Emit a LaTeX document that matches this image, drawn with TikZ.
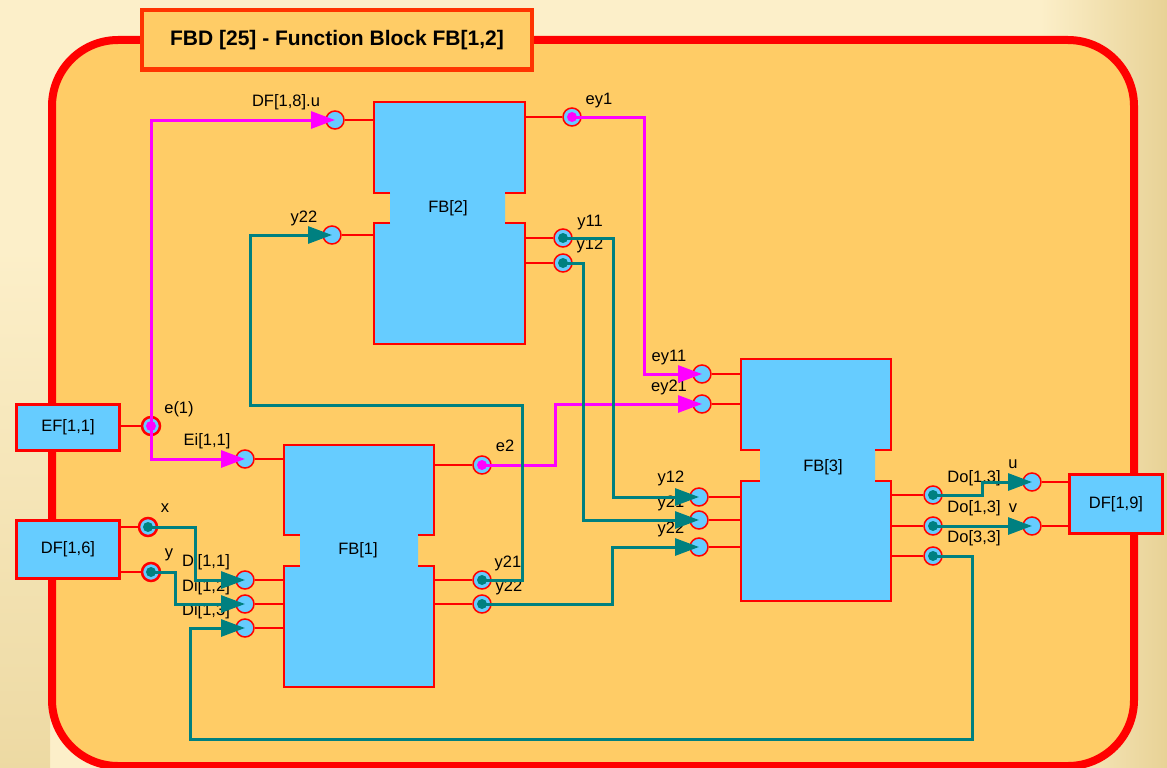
\documentclass[tikz,border=0pt]{standalone}
\usepackage{fontspec}
\setmainfont{Liberation Sans}
\usetikzlibrary{arrows.meta}
\definecolor{fbblue}{HTML}{66CCFF}
\definecolor{fborange}{HTML}{FFCC66}
\definecolor{wteal}{HTML}{008080}
\definecolor{wmag}{HTML}{FF00FF}
\definecolor{ttlred}{HTML}{FF3300}
\definecolor{bgcream}{HTML}{FCEFC9}
\definecolor{bgtan}{HTML}{E8D296}

\begin{document}
\begin{tikzpicture}[
  x=1pt, y=-1pt,
  >={Triangle[length=24pt,width=17pt]},
  lbl/.style={font=\fontsize{16.5}{18}\selectfont, inner sep=0pt, anchor=base},
  port/.style={circle, draw=red, line width=1.5pt, fill=fbblue, minimum size=18pt, inner sep=0pt},
  oport/.style={port, path picture={\fill[#1] (path picture bounding box.center) circle (5pt);}},
  fbedge/.style={draw=red, line width=2.6pt},
  stub/.style={draw=red, line width=2pt},
  iobox/.style={draw=red, line width=3pt, fill=fbblue, inner sep=0pt,
    font=\fontsize{16.5}{18}\selectfont},
  twire/.style={draw=wteal, line width=3pt},
  mwire/.style={draw=wmag, line width=3pt}
]
% background and frame
\fill[bgcream] (0,0) rectangle (1167,768);
\useasboundingbox (0,0) rectangle (1167,768);
\shade[left color=bgcream, right color=bgtan] (1040,0) rectangle (1167,768);
\shade[top color=bgcream, bottom color=bgtan!75!bgcream] (0,250) rectangle (50,768);
\draw[red, line width=8pt, fill=fborange, rounded corners=66pt] (52,40) rectangle (1134,766);
\node[draw=ttlred, line width=4.5pt, fill=fborange, minimum width=390pt, minimum height=59.5pt,
  inner sep=0pt, font=\bfseries\fontsize{21}{24}\selectfont] (ttl) at (337,39.75)
  {FBD [25] - Function Block FB[1,2]};

% FB[2]
\fill[fbblue] (374,102) -- (525,102) -- (525,193) -- (505,193) -- (505,223) -- (525,223)
  -- (525,344) -- (374,344) -- (374,223) -- (390,223) -- (390,193) -- (374,193) -- cycle;
\draw[fbedge] (390,193) -- (374,193) -- (374,102) -- (525,102) -- (525,193) -- (505,193);
\draw[fbedge] (390,223) -- (374,223) -- (374,344) -- (525,344) -- (525,223) -- (505,223);
\node[lbl] (fb2) at (448,212) {FB[2]};
\coordinate (fb2w) at (374,0);
\coordinate (fb2e) at (525,0);

% FB[1]
\fill[fbblue] (284,445) -- (434,445) -- (434,535) -- (418,535) -- (418,566) -- (434,566)
  -- (434,687) -- (284,687) -- (284,566) -- (300,566) -- (300,535) -- (284,535) -- cycle;
\draw[fbedge] (300,535) -- (284,535) -- (284,445) -- (434,445) -- (434,535) -- (418,535);
\draw[fbedge] (300,566) -- (284,566) -- (284,687) -- (434,687) -- (434,566) -- (418,566);
\node[lbl] (fb1) at (358,554) {FB[1]};
\coordinate (fb1w) at (284,0);
\coordinate (fb1e) at (434,0);

% FB[3]
\fill[fbblue] (741,359) -- (891,359) -- (891,450) -- (875,450) -- (875,481) -- (891,481)
  -- (891,601) -- (741,601) -- (741,481) -- (760,481) -- (760,450) -- (741,450) -- cycle;
\draw[fbedge] (760,450) -- (741,450) -- (741,359) -- (891,359) -- (891,450) -- (875,450);
\draw[fbedge] (760,481) -- (741,481) -- (741,601) -- (891,601) -- (891,481) -- (875,481);
\node[lbl] (fb3) at (823,471) {FB[3]};
\coordinate (fb3w) at (741,0);
\coordinate (fb3e) at (891,0);

% outer blocks
\node[iobox, minimum width=103pt, minimum height=46pt] (ef11) at (68,427.5) {EF[1,1]};
\node[iobox, minimum width=103pt, minimum height=58pt] (df16) at (68,549.5) {DF[1,6]};
\node[iobox, minimum width=93.5pt, minimum height=59pt] (df19) at (1116,504) {DF[1,9]};

% ports
\node[port] (f2u) at (335,120) {};
\node[port] (f2y22) at (332,235) {};
\node[oport=wmag] (f2ey1) at (572,117) {};
\node[oport=wteal] (f2y11) at (563,238) {};
\node[oport=wteal] (f2y12) at (563,263) {};
\node[port] (f1ei) at (245,459) {};
\node[port] (f1d11) at (245,580) {};
\node[port] (f1d12) at (245,604) {};
\node[port] (f1d13) at (245,628) {};
\node[oport=wmag] (f1e2) at (482,465) {};
\node[oport=wteal] (f1y21) at (482,580) {};
\node[oport=wteal] (f1y22) at (482,604) {};
\node[port] (f3ey11) at (702,374) {};
\node[port] (f3ey21) at (702,404) {};
\node[port] (f3y12) at (699,497) {};
\node[port] (f3y21) at (699,520) {};
\node[port] (f3y22) at (699,547) {};
\node[oport=wteal] (f3o1) at (933,495) {};
\node[oport=wteal] (f3o2) at (933,526) {};
\node[oport=wteal] (f3o3) at (933,556) {};
\node[port] (df9u) at (1032,482) {};
\node[port] (df9v) at (1032,526) {};
\node[oport=wmag, line width=2.5pt] (e1) at (151,426) {};
\node[oport=wteal, line width=2.5pt] (df6x) at (148,527) {};
\node[oport=wteal, line width=2.5pt] (df6y) at (151,572) {};

% stubs to the blocks
\draw[stub] (f2u) -- (f2u -| fb2w);
\draw[stub] (f2y22) -- (f2y22 -| fb2w);
\draw[stub] (f2ey1) -- (f2ey1 -| fb2e);
\draw[stub] (f2y11) -- (f2y11 -| fb2e);
\draw[stub] (f2y12) -- (f2y12 -| fb2e);
\draw[stub] (f1ei) -- (f1ei -| fb1w);
\draw[stub] (f1d11) -- (f1d11 -| fb1w);
\draw[stub] (f1d12) -- (f1d12 -| fb1w);
\draw[stub] (f1d13) -- (f1d13 -| fb1w);
\draw[stub] (f1e2) -- (f1e2 -| fb1e);
\draw[stub] (f1y21) -- (f1y21 -| fb1e);
\draw[stub] (f1y22) -- (f1y22 -| fb1e);
\draw[stub] (f3ey11) -- (f3ey11 -| fb3w);
\draw[stub] (f3ey21) -- (f3ey21 -| fb3w);
\draw[stub] (f3y12) -- (f3y12 -| fb3w);
\draw[stub] (f3y21) -- (f3y21 -| fb3w);
\draw[stub] (f3y22) -- (f3y22 -| fb3w);
\draw[stub] (f3o1) -- (f3o1 -| fb3e);
\draw[stub] (f3o2) -- (f3o2 -| fb3e);
\draw[stub] (f3o3) -- (f3o3 -| fb3e);
\draw[stub] (e1) -- (e1 -| ef11.east);
\draw[stub] (df6x) -- (df6x -| df16.east);
\draw[stub] (df6y) -- (df6y -| df16.east);
\draw[stub] (df9u) -- (df9u -| df19.west);
\draw[stub] (df9v) -- (df9v -| df19.west);

% port names
\node[lbl] (ldfu) at (286,106) {DF[1,8].u};
\node[lbl] (ly22a) at (304,222) {y22};
\node[lbl] (ley1) at (599,104) {ey1};
\node[lbl] (ly11) at (590,226) {y11};
\node[lbl] (ly12a) at (590,249) {y12};
\node[lbl] (le1) at (179,413) {e(1)};
\node[lbl] (lei) at (207,445) {Ei[1,1]};
\node[lbl] (lx) at (165,512) {x};
\node[lbl] (ly) at (169,557) {y};
\node[lbl] (ld11) at (206,566) {Di[1,1]};
\node[lbl] (ld12) at (206,591) {Di[1,2]};
\node[lbl] (ld13) at (206,615) {Di[1,3]};
\node[lbl] (le2) at (505,451) {e2};
\node[lbl] (ly21a) at (508,567) {y21};
\node[lbl] (ly22b) at (509,591) {y22};
\node[lbl] (ley11) at (669,361) {ey11};
\node[lbl] (ley21) at (669,391) {ey21};
\node[lbl] (ly12b) at (671,482) {y12};
\node[lbl] (ly21b) at (671,507) {y21};
\node[lbl] (ly22c) at (671,533) {y22};
\node[lbl] (ldo1) at (974,482) {Do[1,3]};
\node[lbl] (ldo2) at (974,512) {Do[1,3]};
\node[lbl] (ldo3) at (974,542) {Do[3,3]};
\node[lbl] (lu) at (1013,468) {u};
\node[lbl] (lv) at (1013,512) {v};

% wires
\draw[mwire,->] (e1.center) |- (f2u.center);
\draw[mwire,->] (e1.center) |- (f1ei.center);
\draw[mwire,->] (f2ey1.center) -- ++(72,0) |- (f3ey11.center);
\draw[mwire,->] (f1e2.center) -- ++(73,0) |- (f3ey21.center);
\draw[twire,->] (f2y11.center) -- ++(50,0) |- (f3y12.center);
\draw[twire,->] (f2y12.center) -- ++(20,0) |- (f3y21.center);
\draw[twire,->] (f1y21.center) -- ++(40,0) |- (250,405) |- (f2y22.center);
\draw[twire,->] (f1y22.center) -- ++(130,0) |- (f3y22.center);
\draw[twire,->] (df6x.center) -- ++(47,0) |- (f1d11.center);
\draw[twire,->] (df6y.center) -- ++(24,0) |- (f1d12.center);
\draw[twire,->] (f3o3.center) -- ++(39,0) |- (190,739) |- (f1d13.center);
\draw[twire,->] (f3o1.center) -- ++(49,0) |- (df9u.center);
\draw[twire,->] (f3o2.center) -- (df9v.center);
\end{tikzpicture}
\end{document}
